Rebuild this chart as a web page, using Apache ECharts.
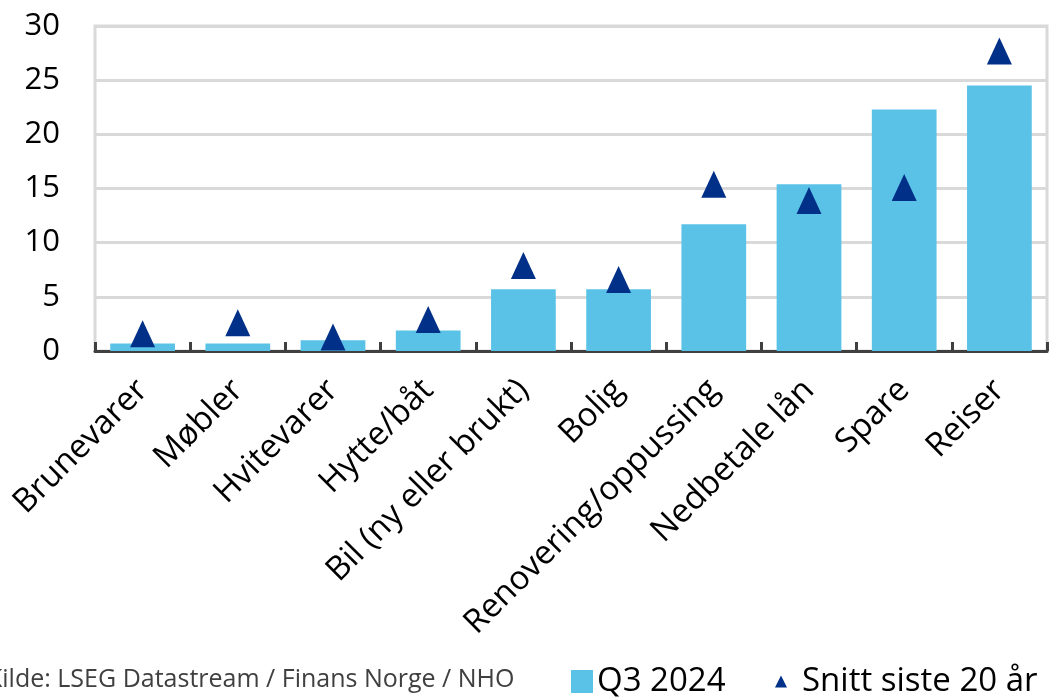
<!DOCTYPE html>
<html>
<head>
<meta charset="utf-8">
<script src="https://cdn.jsdelivr.net/npm/echarts@6/dist/echarts.min.js"></script>
<style>
  html, body { margin: 0; padding: 0; background: #fff; }
  #chart { width: 1059px; height: 700px; }
</style>
</head>
<body>
<div id="chart"></div>
<script>
// Kategorier for planlagt bruk av penger
const categories = ['Brunevarer', 'Møbler', 'Hvitevarer', 'Hytte/båt', 'Bil (ny eller brukt)', 'Bolig', 'Renovering/oppussing', 'Nedbetale lån', 'Spare', 'Reiser'];
// Andel i Q3 2024
const q3_2024 = [0.7, 0.7, 1.0, 1.9, 5.7, 5.7, 11.7, 15.4, 22.3, 24.5];
// Snitt over siste 20 år
const snitt20 = [1.6, 2.6, 1.3, 2.9, 7.9, 6.6, 15.4, 13.9, 15.1, 27.7];
const yTicks = { min: 0, max: 30, interval: 5 };
const sourceText = 'Kilde: LSEG Datastream / Finans Norge / NHO';

const font = '"Open Sans", "Noto Sans", sans-serif';
const barColor = '#5bc2e7';
const markerColor = '#003087';
const chart = echarts.init(document.getElementById('chart'), null, { renderer: 'canvas' });

chart.setOption({
  animation: false,
  textStyle: { fontFamily: font },
  grid: {
    left: 95, right: 12, top: 26, bottom: 349,
    show: true, borderColor: '#d9d9d9', borderWidth: 3, backgroundColor: 'transparent'
  },
  legend: [
    {
      left: 566, top: 660,
      itemWidth: 22, itemHeight: 23,
      textStyle: { fontFamily: font, fontSize: 33, color: '#000', padding: [0, 0, 0, -1] },
      data: [{ name: 'Q3 2024', icon: 'rect', itemStyle: { color: barColor } }]
    },
    {
      left: 770, top: 660,
      itemWidth: 12, itemHeight: 12,
      textStyle: { fontFamily: font, fontSize: 33, color: '#000', padding: [0, 0, 0, 10] },
      data: [{ name: 'Snitt siste 20 år', icon: 'triangle', itemStyle: { color: markerColor } }]
    }
  ],
  graphic: [{
    type: 'text', left: -13, top: 667,
    style: { text: sourceText, font: '25px ' + font, fill: '#404040' }
  }],
  xAxis: {
    type: 'category',
    data: categories,
    axisLine: { lineStyle: { color: '#404040', width: 3 } },
    axisTick: { show: true, inside: true, length: 9, lineStyle: { color: '#404040', width: 3 } },
    axisLabel: { rotate: 45, margin: 34, fontSize: 33, color: '#000', fontFamily: font, interval: 0 }
  },
  yAxis: {
    type: 'value',
    min: yTicks.min, max: yTicks.max, interval: yTicks.interval,
    axisLine: { show: false },
    axisTick: { show: false },
    splitLine: { lineStyle: { color: '#d9d9d9', width: 3 } },
    axisLabel: { fontSize: 31, color: '#000', margin: 35, fontFamily: font }
  },
  series: [
    {
      name: 'Q3 2024', type: 'bar', data: q3_2024,
      barCategoryGap: '32%',
      itemStyle: { color: barColor }
    },
    {
      name: 'Snitt siste 20 år', type: 'scatter', data: snitt20,
      symbol: 'triangle', symbolSize: [25, 27],
      itemStyle: { color: markerColor, opacity: 1 }, z: 5
    }
  ]
});
</script>
</body>
</html>
